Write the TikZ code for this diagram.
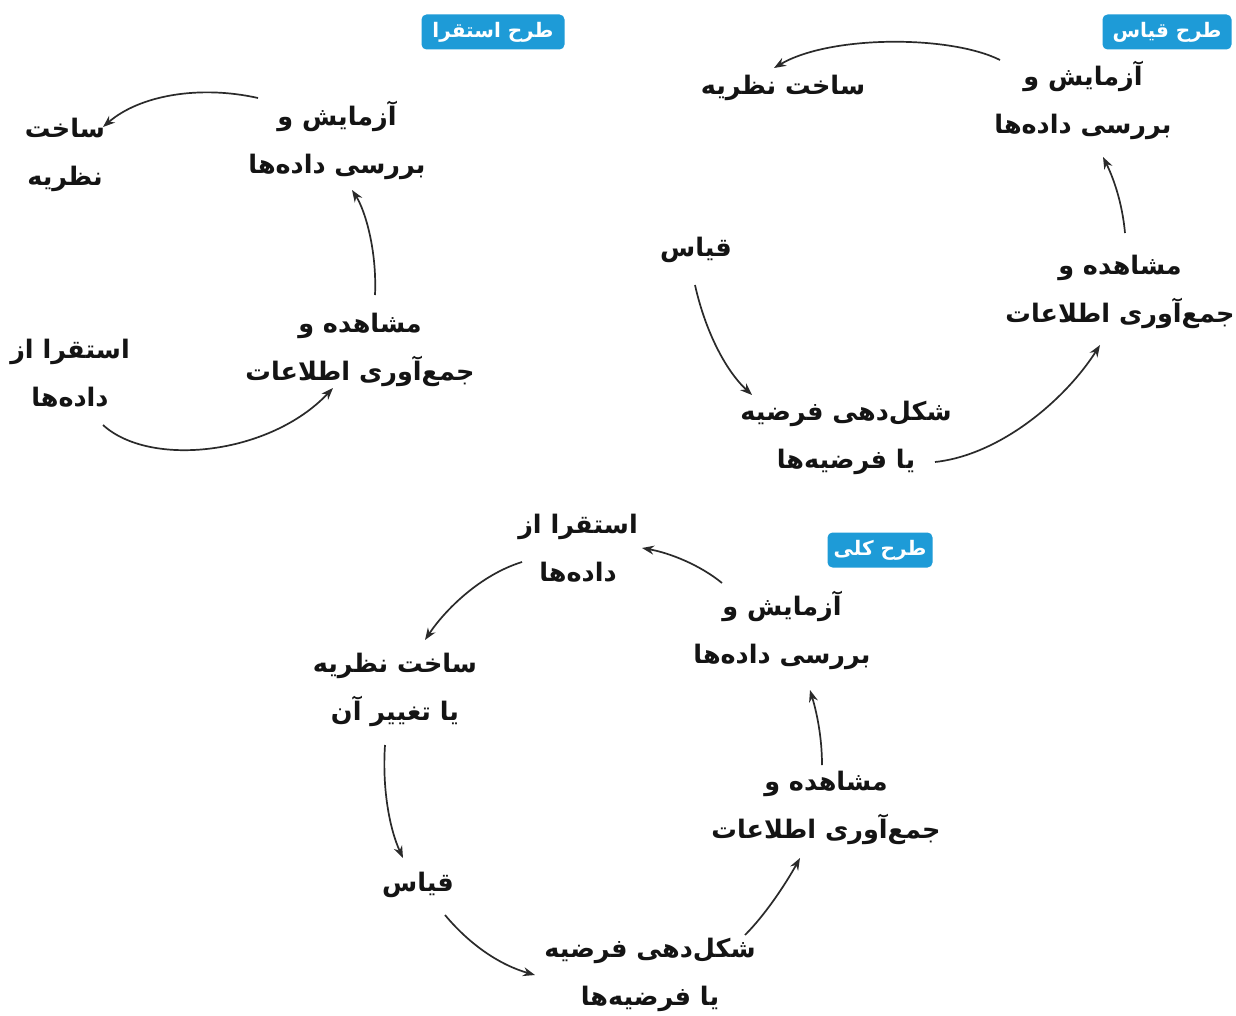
\documentclass[tikz,border=0pt]{standalone}
\usepackage{fontspec}
\usetikzlibrary{arrows.meta,calc}
\TeXXeTstate=1
\newfontfamily\arabicfont[Script=Arabic]{DejaVu Sans}
\newcommand{\fa}[1]{\beginR #1\endR}
\definecolor{tagblue}{HTML}{1E9BD7}
\definecolor{ink}{HTML}{141414}
\definecolor{arrowgray}{HTML}{2A2A2A}
\begin{document}
\begin{tikzpicture}[x=1pt,y=-1pt,
  lbl/.style={font=\arabicfont\bfseries\fontsize{25.5}{48}\selectfont, align=center, text=ink, inner sep=0pt},
  tag/.style={fill=tagblue, rounded corners=5pt, text=white, font=\arabicfont\bfseries\fontsize{20}{22}\selectfont, inner sep=0pt, minimum height=35pt},
  arr/.style={draw=arrowgray, line width=1.7pt, -{Stealth[length=12pt,width=9pt]}}]
\fill[white] (0,0) rectangle (1236,1016);
\useasboundingbox (0,0) rectangle (1236,1016);

% ---------- top left: induction ----------
\node[tag, minimum width=143pt] (tagA) at (493,32) {\fa{طرح استقرا}};
\node[lbl] (t1s) at (65,155) {\fa{ساخت}\\\fa{نظریه}};
\node[lbl] (t1a) at (337,140) {\fa{آزمایش و}\\\fa{بررسی داده‌ها}};
\node[lbl] (t1m) at (360,350) {\fa{مشاهده و}\\\fa{جمع‌آوری اطلاعات}};
\node[lbl] (t1i) at (70,373) {\fa{استقرا از}\\\fa{داده‌ها}};

\draw[arr] ($(t1a)+(-79,-42)$) .. controls (200,85) and (140,95) .. ($(t1s)+(38,-28)$);
\draw[arr] ($(t1m)+(15,-55)$) .. controls (377,250) and (365,210) .. ($(t1a)+(15,50)$);
\draw[arr] ($(t1i)+(33,52)$) .. controls (150,468) and (270,455) .. ($(t1m)+(-27,38)$);

% ---------- top right: deduction ----------
\node[tag, minimum width=129pt] (tagB) at (1167,32) {\fa{طرح قیاس}};
\node[lbl] (t2s) at (783,88) {\fa{ساخت نظریه}};
\node[lbl] (t2a) at (1083,100) {\fa{آزمایش و}\\\fa{بررسی داده‌ها}};
\node[lbl] (t2q) at (696,250) {\fa{قیاس}};
\node[lbl] (t2m) at (1120,292) {\fa{مشاهده و}\\\fa{جمع‌آوری اطلاعات}};
\node[lbl] (t2h) at (846,438) {\fa{شکل‌دهی فرضیه}\\\fa{یا فرضیه‌ها}};

\draw[arr] ($(t2a)+(-83,-40)$) .. controls (950,35) and (830,35) .. ($(t2s)+(-9,-20)$);
\draw[arr] ($(t2m)+(5,-59)$) .. controls (1122,200) and (1112,175) .. ($(t2a)+(20,57)$);
\draw[arr] ($(t2q)+(-1,35)$) .. controls (705,330) and (725,370) .. ($(t2h)+(-94,-43)$);
\draw[arr] ($(t2h)+(89,24)$) .. controls (1000,455) and (1065,400) .. ($(t2m)+(-20,53)$);

% ---------- bottom: general ----------
\node[tag, minimum width=105pt] (tagC) at (880,550) {\fa{طرح کلی}};
\node[lbl] (bi) at (578,548) {\fa{استقرا از}\\\fa{داده‌ها}};
\node[lbl] (ba) at (782,630) {\fa{آزمایش و}\\\fa{بررسی داده‌ها}};
\node[lbl] (bs) at (395,690) {\fa{ساخت نظریه}\\\fa{یا تغییر آن}};
\node[lbl] (bm) at (826,808) {\fa{مشاهده و}\\\fa{جمع‌آوری اطلاعات}};
\node[lbl] (bq) at (418,885) {\fa{قیاس}};
\node[lbl] (bh) at (650,975) {\fa{شکل‌دهی فرضیه}\\\fa{یا فرضیه‌ها}};

\draw[arr] ($(ba)+(-60,-47)$) .. controls (700,565) and (670,553) .. ($(bi)+(64,0)$);
\draw[arr] ($(bi)+(-56,14)$) .. controls (480,575) and (445,610) .. ($(bs)+(30,-50)$);
\draw[arr] ($(bs)+(-10,55)$) .. controls (382,790) and (390,830) .. ($(bq)+(-15,-27)$);
\draw[arr] ($(bq)+(27,30)$) .. controls (470,945) and (500,965) .. ($(bh)+(-115,0)$);
\draw[arr] ($(bh)+(95,-40)$) .. controls (765,915) and (785,885) .. ($(bm)+(-26,50)$);
\draw[arr] ($(bm)+(-4,-43)$) .. controls (822,735) and (816,710) .. ($(ba)+(28,60)$);
\end{tikzpicture}
\end{document}
